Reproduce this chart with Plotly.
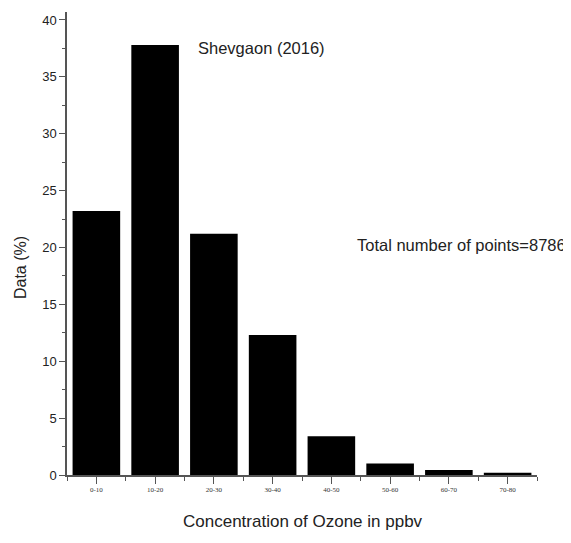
import plotly.graph_objects as go

categories = ["0-10", "10-20", "20-30", "30-40", "40-50", "50-60", "60-70", "70-80"]
data_percent = [23.2, 37.8, 21.2, 12.3, 3.4, 1.0, 0.45, 0.2]
y_ticks = [0, 5, 10, 15, 20, 25, 30, 35, 40]

x_pos = list(range(len(categories)))

fig = go.Figure()
fig.add_trace(go.Bar(
    x=x_pos, y=data_percent, width=0.81,
    marker=dict(color="black", line=dict(width=0)),
    showlegend=False,
))

axis_col = "#555555"
# page body has an 8px margin, so figure is sized 563x535 to fill the 571x543 window
fig.update_layout(
    width=563, height=535,
    margin=dict(l=59, r=34, t=4, b=68),
    paper_bgcolor="white", plot_bgcolor="white",
    xaxis=dict(
        range=[-0.5, 7.5], tickmode="array", tickvals=x_pos, ticktext=categories,
        showline=True, linecolor=axis_col, linewidth=1.5,
        ticks="outside", ticklen=7, tickwidth=1, tickcolor=axis_col,
        tickfont=dict(family="Liberation Serif", size=7, color="#333"),
        showgrid=False, zeroline=False,
        minor=dict(tick0=-0.5, dtick=1, ticks="outside", ticklen=4, tickwidth=1, tickcolor=axis_col),
    ),
    yaxis=dict(
        range=[0, 40.7], tickmode="array", tickvals=y_ticks,
        showline=True, linecolor=axis_col, linewidth=1.5,
        ticks="outside", ticklen=6, tickwidth=1, tickcolor=axis_col,
        tickfont=dict(family="Liberation Sans", size=13, color="#222"),
        showgrid=False, zeroline=False,
        minor=dict(tick0=0, dtick=2.5, ticks="outside", ticklen=3, tickwidth=1, tickcolor=axis_col),
    ),
    annotations=[
        dict(text="Data (%)", xref="paper", yref="paper", x=-0.1, y=0.447,
             textangle=-90, showarrow=False, xanchor="center", yanchor="middle",
             font=dict(family="Liberation Sans", size=16, color="#222")),
        dict(text="Concentration of Ozone in ppbv", xref="paper", yref="paper", x=0.502, y=-0.1015,
             showarrow=False, xanchor="center", yanchor="middle",
             font=dict(family="Liberation Sans", size=17, color="#222")),
        dict(text="Shevgaon (2016)", xref="paper", yref="paper", x=0.275, y=0.922,
             showarrow=False, xanchor="left", yanchor="middle",
             font=dict(family="Liberation Sans", size=16.5, color="#222")),
        dict(text="Total number of points=8786", xref="paper", yref="paper", x=1.066, y=0.497,
             showarrow=False, xanchor="right", yanchor="middle",
             font=dict(family="Liberation Sans", size=16.5, color="#222")),
    ],
)

fig.write_html("out.html")
